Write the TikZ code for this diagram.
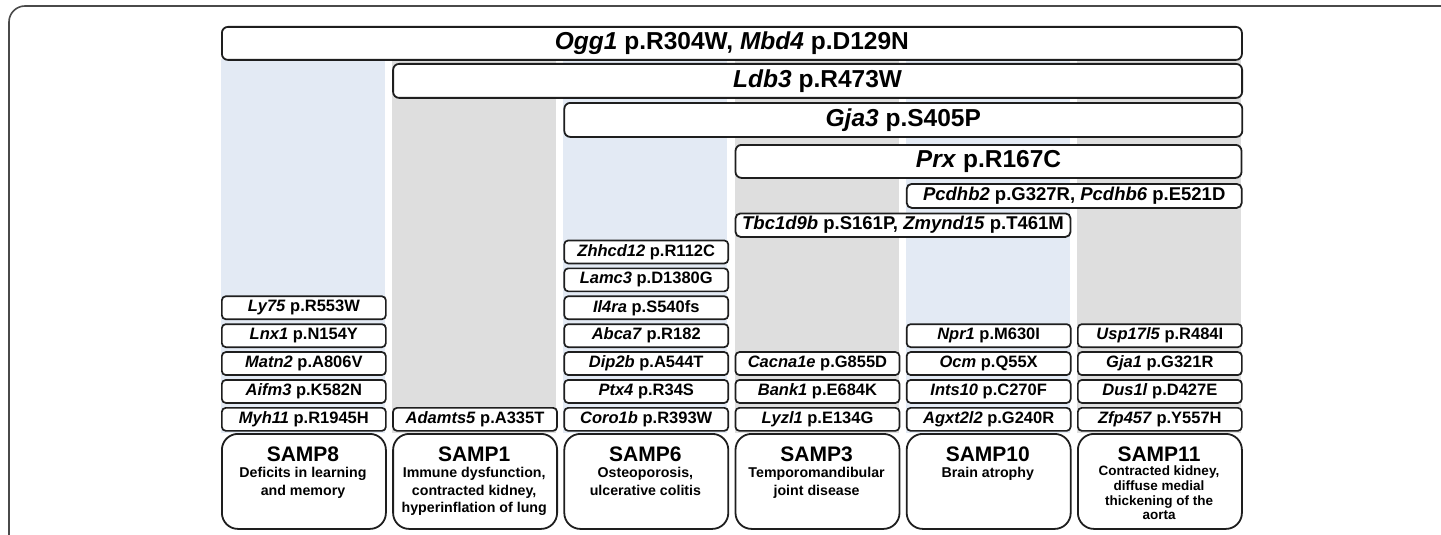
\documentclass[tikz,border=0pt]{standalone}
\usepackage{fontspec}
\setmainfont{Liberation Sans}
\definecolor{linecol}{HTML}{1E1E1E}
\definecolor{bgblue}{HTML}{E3EAF4}
\definecolor{bggray}{HTML}{DEDEDE}
\definecolor{framecol}{HTML}{4A4A4A}
\newcommand{\gn}[1]{\textit{#1}}
\newcommand{\mutnode}[4]{\node[mut] (#1) at ({221+171.2*#2},{407-27.9*#3}) {#4};}
\begin{document}
\begin{tikzpicture}[x=1pt,y=-1pt,
 bar/.style={draw=linecol, line width=1.8pt, fill=white, rounded corners=6pt, inner sep=0pt, anchor=north west, font=\fontsize{24.5}{27}\selectfont\bfseries},
 smallbar/.style={bar, rounded corners=5pt, font=\fontsize{18.5}{21}\selectfont\bfseries},
 mut/.style={draw=linecol, line width=1.7pt, fill=white, rounded corners=4pt, inner sep=0pt, anchor=north west, minimum width=164pt, minimum height=23pt, font=\fontsize{16.5}{19}\selectfont\bfseries},
 sampbox/.style={draw=linecol, line width=1.8pt, fill=white, rounded corners=16pt, anchor=north west, minimum width=164pt, minimum height=95pt, inner sep=0pt},
 samptitle/.style={font=\fontsize{21}{24}\selectfont\bfseries, inner sep=0pt, anchor=base},
 sampsub/.style={font=\fontsize{14.2}{17.5}\selectfont\bfseries, inner sep=0pt, anchor=north, align=center},
 sampsubsmall/.style={font=\fontsize{13.5}{14.6}\selectfont\bfseries, inner sep=0pt, anchor=north, align=center}
]
\useasboundingbox (0,0) rectangle (1441,535);
% outer frame
\draw[framecol, line width=1.6pt, rounded corners=16pt] (9,535) -- (9,6) -- (1441,6);
% column backgrounds
\fill[bgblue] (221,59) rectangle (385,433);
\fill[bggray] (392.2,59) rectangle (556.2,433);
\fill[bgblue] (563.4,59) rectangle (727.4,433);
\fill[bggray] (734.6,59) rectangle (898.6,433);
\fill[bgblue] (905.8,59) rectangle (1069.8,433);
\fill[bggray] (1077,59) rectangle (1241,433);
% shared mutation bars
\node[bar, minimum width=1020pt, minimum height=33pt] (ogg) at (221,26) {\gn{Ogg1} p.R304W, \gn{Mbd4} p.D129N};
\node[bar, minimum width=849pt, minimum height=34pt] (ldb) at (392.2,63) {\gn{Ldb3} p.R473W};
\node[bar, minimum width=678pt, minimum height=34pt] (gja) at (563.4,102) {\gn{Gja3} p.S405P};
\node[bar, minimum width=506pt, minimum height=33pt] (prx) at (734.6,144) {\gn{Prx} p.R167C};
\node[smallbar, minimum width=335pt, minimum height=24pt] (pcd) at (905.8,183) {\gn{Pcdhb2} p.G327R, \gn{Pcdhb6} p.E521D};
\node[smallbar, minimum width=335pt, minimum height=23.5pt] (tbc) at (734.6,212.5) {\gn{Tbc1d9b} p.S161P, \gn{Zmynd15} p.T461M};
% SAMP8
\mutnode{ly}{0}{4}{\gn{Ly75} p.R553W}
\mutnode{lnx}{0}{3}{\gn{Lnx1} p.N154Y}
\mutnode{matn}{0}{2}{\gn{Matn2} p.A806V}
\mutnode{aifm}{0}{1}{\gn{Aifm3} p.K582N}
\mutnode{myh}{0}{0}{\gn{Myh11} p.R1945H}
% SAMP1
\mutnode{adam}{1}{0}{\gn{Adamts5} p.A335T}
% SAMP6
\mutnode{zhh}{2}{6}{\gn{Zhhcd12} p.R112C}
\mutnode{lamc}{2}{5}{\gn{Lamc3} p.D1380G}
\mutnode{ilra}{2}{4}{\gn{Il4ra} p.S540fs}
\mutnode{abca}{2}{3}{\gn{Abca7} p.R182}
\mutnode{dip}{2}{2}{\gn{Dip2b} p.A544T}
\mutnode{ptx}{2}{1}{\gn{Ptx4} p.R34S}
\mutnode{coro}{2}{0}{\gn{Coro1b} p.R393W}
% SAMP3
\mutnode{cac}{3}{2}{\gn{Cacna1e} p.G855D}
\mutnode{bank}{3}{1}{\gn{Bank1} p.E684K}
\mutnode{lyz}{3}{0}{\gn{Lyzl1} p.E134G}
% SAMP10
\mutnode{npr}{4}{3}{\gn{Npr1} p.M630I}
\mutnode{ocm}{4}{2}{\gn{Ocm} p.Q55X}
\mutnode{ints}{4}{1}{\gn{Ints10} p.C270F}
\mutnode{agx}{4}{0}{\gn{Agxt2l2} p.G240R}
% SAMP11
\mutnode{usp}{5}{3}{\gn{Usp17l5} p.R484I}
\mutnode{gjaone}{5}{2}{\gn{Gja1} p.G321R}
\mutnode{dus}{5}{1}{\gn{Dus1l} p.D427E}
\mutnode{zfp}{5}{0}{\gn{Zfp457} p.Y557H}
% strain boxes
\node[sampbox] (s8) at (221,433) {};
\node[samptitle] (s8t) at (303,461) {SAMP8};
\node[sampsub] (s8s) at (303,467.5) {Deficits in learning\\and memory};
\node[sampbox] (s1) at (392.2,433) {};
\node[samptitle] (s1t) at (474.2,461) {SAMP1};
\node[sampsub] (s1s) at (474.2,467.5) {Immune dysfunction,\\contracted kidney,\\hyperinflation of lung};
\node[sampbox] (s6) at (563.4,433) {};
\node[samptitle] (s6t) at (645.4,461) {SAMP6};
\node[sampsub] (s6s) at (645.4,467.5) {Osteoporosis,\\ulcerative colitis};
\node[sampbox] (s3) at (734.6,433) {};
\node[samptitle] (s3t) at (816.6,461) {SAMP3};
\node[sampsub] (s3s) at (816.6,467.5) {Temporomandibular\\joint disease};
\node[sampbox] (s10) at (905.8,433) {};
\node[samptitle] (s10t) at (987.8,461) {SAMP10};
\node[sampsub] (s10s) at (987.8,467.5) {Brain atrophy};
\node[sampbox] (s11) at (1077,433) {};
\node[samptitle] (s11t) at (1159,461) {SAMP11};
\node[sampsubsmall] (s11s) at (1159,466) {Contracted kidney,\\diffuse medial\\thickening of the\\aorta};
\end{tikzpicture}
\end{document}
